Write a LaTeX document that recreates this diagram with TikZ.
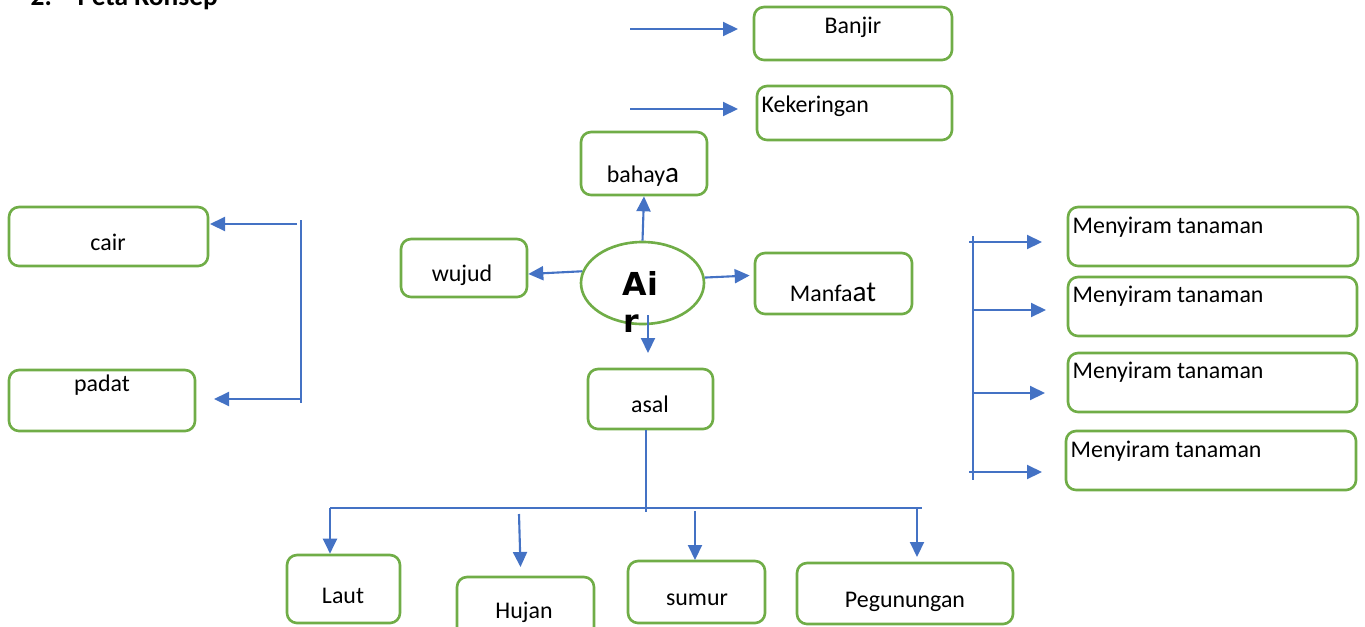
\documentclass[tikz,border=0pt]{standalone}
\usepackage{fontspec}
\setmainfont{Carlito}
\newfontfamily\airfont{DejaVu Sans}
\usetikzlibrary{arrows.meta,shapes.geometric}
\definecolor{lineblue}{HTML}{4472C4}
\definecolor{boxgreen}{HTML}{70AD47}
\tikzset{
  kotak/.style={draw=boxgreen,line width=0.75pt,rounded corners=0.1cm,inner sep=0pt},
  teks/.style={anchor=base,inner sep=0pt,font=\fontsize{6.8}{8}\selectfont},
  arr/.style={lineblue,line width=0.6pt,-{Triangle[length=0.15cm,width=0.14cm]}},
  garis/.style={lineblue,line width=0.4pt}
}

\begin{document}
\begin{tikzpicture}
\useasboundingbox (0,0) rectangle (13.65,-6.26);
\node [anchor=base west,inner sep=0pt,font=\bfseries\fontsize{7.8}{9}\selectfont] (judul) at (0.30,-0.05) {\makebox[0.47cm][l]{2.}Peta Konsep};

% kotak-kotak
\node [kotak,minimum width=1.98cm,minimum height=0.53cm] (banjir) at (8.53,-0.335) {};
\node [kotak,minimum width=1.95cm,minimum height=0.54cm] (kering) at (8.545,-1.13) {};
\node [kotak,minimum width=1.26cm,minimum height=0.63cm] (bahaya) at (6.44,-1.635) {};
\node [kotak,minimum width=1.26cm,minimum height=0.58cm] (wujud) at (4.64,-2.68) {};
\node [kotak,minimum width=1.57cm,minimum height=0.61cm] (manfaat) at (8.335,-2.835) {};
\node [draw=boxgreen,line width=0.75pt,ellipse,minimum width=1.23cm,minimum height=0.82cm,inner sep=0pt] (air) at (6.425,-2.83) {};
\node [kotak,minimum width=1.25cm,minimum height=0.60cm] (asal) at (6.505,-3.99) {};
\node [kotak,minimum width=1.99cm,minimum height=0.59cm] (cair) at (1.085,-2.365) {};
\node [kotak,minimum width=1.86cm,minimum height=0.61cm] (padat) at (1.02,-4.005) {};
\node [kotak,minimum width=1.13cm,minimum height=0.68cm] (laut) at (3.435,-5.89) {};
\node [kotak,minimum width=1.37cm,minimum height=0.65cm] (hujan) at (5.255,-6.095) {};
\node [kotak,minimum width=1.37cm,minimum height=0.62cm] (sumur) at (6.965,-5.92) {};
\node [kotak,minimum width=2.16cm,minimum height=0.61cm] (gunung) at (9.05,-5.935) {};
\node [kotak,minimum width=2.90cm,minimum height=0.59cm] (siram1) at (12.13,-2.365) {};
\node [kotak,minimum width=2.89cm,minimum height=0.59cm] (siram2) at (12.125,-3.065) {};
\node [kotak,minimum width=2.89cm,minimum height=0.59cm] (siram3) at (12.125,-3.825) {};
\node [kotak,minimum width=2.90cm,minimum height=0.59cm] (siram4) at (12.11,-4.605) {};

% tulisan
\node [teks] (banjirT) at (8.53,-0.33) {Banjir};
\node [teks,anchor=base west] (keringT) at (7.61,-1.12) {Kekeringan};
\node [teks] (bahayaT) at (6.43,-1.82) {bahay{\fontsize{8.3}{9}\selectfont a}};
\node [teks] (wujudT) at (4.62,-2.81) {wujud};
\node [teks] (manfaatT) at (8.33,-3.01) {Manfa{\fontsize{8.3}{9}\selectfont at}};
\node [teks,anchor=base west,font=\airfont\bfseries\fontsize{9}{10}\selectfont] (airT) at (6.22,-2.95) {Ai};
\node [teks,anchor=base west,font=\airfont\bfseries\fontsize{9}{10}\selectfont] (airR) at (6.23,-3.32) {r};
\node [teks] (asalT) at (6.50,-4.12) {asal};
\node [teks] (cairT) at (1.08,-2.50) {cair};
\node [teks] (padatT) at (1.02,-3.91) {padat};
\node [teks] (lautT) at (3.43,-6.03) {Laut};
\node [teks] (hujanT) at (5.24,-6.18) {Hujan};
\node [teks] (sumurT) at (6.97,-6.05) {sumur};
\node [teks] (gunungT) at (9.05,-6.07) {Pegunungan};
\node [teks,anchor=base west] (siram1T) at (10.72,-2.33) {Menyiram tanaman};
\node [teks,anchor=base west] (siram2T) at (10.72,-3.02) {Menyiram tanaman};
\node [teks,anchor=base west] (siram3T) at (10.72,-3.78) {Menyiram tanaman};
\node [teks,anchor=base west] (siram4T) at (10.70,-4.57) {Menyiram tanaman};

% titik bebas
\coordinate (banjirA) at (6.30,-0.29);
\coordinate (banjirB) at (7.38,-0.29);
\coordinate (keringA) at (6.30,-1.09);
\coordinate (keringB) at (7.38,-1.09);
\coordinate (airBawah) at (6.48,-3.15);
\coordinate (asalAtas) at (6.48,-3.53);
\coordinate (asalBawah) at (6.46,-5.12);
\coordinate (cabangL) at (3.30,-5.08);
\coordinate (cabangR) at (9.22,-5.08);
\coordinate (kiriA) at (3.01,-2.20);
\coordinate (kiriB) at (3.01,-4.03);
\coordinate (kananA) at (9.73,-2.36);
\coordinate (kananB) at (9.73,-4.80);

% panah
\draw [arr] (banjirA) -- (banjirB);
\draw [arr] (keringA) -- (keringB);
\draw [arr] (air.north) -- (bahaya.south);
\draw [arr] (air.169) -- ([yshift=-0.06cm]wujud.east);
\draw [arr] (air.5) -- ([shift={(-0.04,0.08)}]manfaat.west);
\draw [arr] (airBawah) -- (asalAtas);

\draw [garis] (asalBawah |- asal.south) -- (asalBawah);
\draw [garis,line width=0.5pt] (cabangL) -- (cabangR);
\draw [arr] (cabangL) -- (cabangL |- laut.north);
\draw [arr] (5.19,-5.14) -- (5.205,-5.67);
\draw [arr] (6.95,-5.11) -- (6.95,-5.60);
\draw [arr] (9.17,-5.08) -- (9.17,-5.57);

\draw [garis] (kiriA) -- (kiriB);
\draw [arr] (2.97,-2.24) -- (2.10,-2.24);
\draw [arr] (kiriB |- 0,-3.99) -- (2.14,-3.99);

\draw [garis] (kananA) -- (kananB);
\draw [arr] (9.69,-2.42) -- (10.42,-2.42);
\draw [arr] (9.73,-3.10) -- (10.46,-3.10);
\draw [arr] (9.73,-3.93) -- (10.45,-3.93);
\draw [arr] (9.69,-4.72) -- (10.42,-4.72);
\end{tikzpicture}
\end{document}
